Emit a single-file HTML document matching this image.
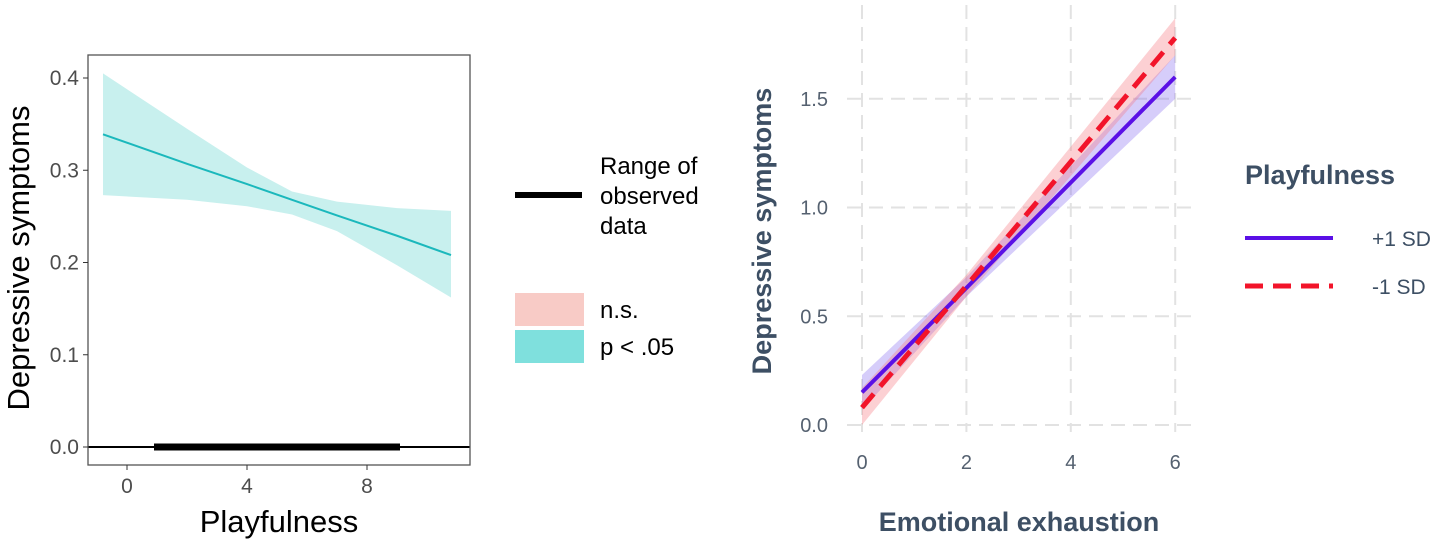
<!DOCTYPE html>
<html><head><meta charset="utf-8"><style>
body{margin:0;background:#fff;}
svg text{font-family:"Liberation Sans",sans-serif;}
</style></head><body>
<svg width="1441" height="544" viewBox="0 0 1441 544">
<g id="left"></g>
<g id="right"></g>
<g>
  <line x1="515" y1="195" x2="582" y2="195" stroke="#000" stroke-width="6"/>
  <text x="600" y="174" font-size="24" fill="#000">Range of</text>
  <text x="600" y="204" font-size="24" fill="#000">observed</text>
  <text x="600" y="234" font-size="24" fill="#000">data</text>
  <rect x="515" y="293" width="69" height="33" fill="#f8cbc6"/>
  <text x="600" y="318" font-size="24" fill="#000">n.s.</text>
  <rect x="515" y="330" width="69" height="33" fill="#7fe0dd"/>
  <text x="600" y="355" font-size="24" fill="#000">p &lt; .05</text>
</g>
<g>
  <text x="1245" y="184" font-size="27" font-weight="bold" fill="#3d4f64">Playfulness</text>
  <line x1="1245" y1="238" x2="1333" y2="238" stroke="#5a10e6" stroke-width="4"/>
  <text x="1372" y="246" font-size="21" fill="#3d4f64">+1 SD</text>
  <line x1="1245" y1="286" x2="1333" y2="286" stroke="#f2142a" stroke-width="5" stroke-dasharray="18,10"/>
  <text x="1372" y="294" font-size="21" fill="#3d4f64">-1 SD</text>
</g>
</svg>
<script>
// ---- left chart data ----
const jnX = [-0.8, 2, 4, 5.5, 7, 9, 10.8];
const jnUpper = [0.405, 0.345, 0.303, 0.277, 0.266, 0.259, 0.256];
const jnLower = [0.273, 0.268, 0.261, 0.252, 0.234, 0.197, 0.162];
const jnFit = [0.339, 0.307, 0.285, 0.268, 0.251, 0.229, 0.208];
const jnRange = [0.9, 9.1];
const leftYTicks = [0, 0.1, 0.2, 0.3, 0.4];
const leftXTicks = [0, 4, 8];
// ---- right chart data ----
const exX = [0, 2, 6];
const plusFit = [0.15, 0.63, 1.60];
const plusLo = [0.07, 0.59, 1.50];
const plusHi = [0.23, 0.68, 1.70];
const minusFit = [0.08, 0.64, 1.78];
const minusLo = [0.0, 0.59, 1.70];
const minusHi = [0.17, 0.69, 1.87];
const rightYTicks = [0, 0.5, 1.0, 1.5];
const rightXTicks = [0, 2, 4, 6];

const NS='http://www.w3.org/2000/svg';
function mk(p,tag,at){const e=document.createElementNS(NS,tag);for(const k in at)e.setAttribute(k,at[k]);p.appendChild(e);return e;}

// left
const L=document.getElementById('left');
const lx=v=>127+v*30, ly=v=>447-v*922.5;
let e;
e=mk(L,'path',{d:'M'+jnX.map((x,i)=>lx(x)+','+ly(jnUpper[i])).join('L')+'L'+jnX.slice().reverse().map((x,i)=>lx(x)+','+ly(jnLower[jnX.length-1-i])).join('L')+'Z',fill:'#c8f0ee'});


e=mk(L,'polyline',{points:jnX.map((x,i)=>lx(x)+','+ly(jnFit[i])).join(' '),fill:'none',stroke:'#1bb8bc','stroke-width':2});


e=mk(L,'line',{x1:88,x2:470,y1:ly(0),y2:ly(0),stroke:'#000','stroke-width':2});


e=mk(L,'line',{x1:lx(jnRange[0]),x2:lx(jnRange[1]),y1:ly(0),y2:ly(0),stroke:'#000','stroke-width':7});


e=mk(L,'rect',{x:88,y:55,width:382,height:410,fill:'none',stroke:'#555','stroke-width':1.3});


leftYTicks.forEach(v=>{
  mk(L,'line',{x1:83,x2:88,y1:ly(v),y2:ly(v),stroke:'#333'});
  e=mk(L,'text',{x:79,y:ly(v)+7,'font-size':21,fill:'#4d4d4d','text-anchor':'end'});e.textContent=v.toFixed(1);
  
  
});
leftXTicks.forEach(v=>{
  mk(L,'line',{x1:lx(v),x2:lx(v),y1:465,y2:470,stroke:'#333'});
  e=mk(L,'text',{x:lx(v),y:493,'font-size':21,fill:'#4d4d4d','text-anchor':'middle'});e.textContent=v;
  
  
});
e=mk(L,'text',{x:279,y:532,'font-size':31,fill:'#000','text-anchor':'middle'});e.textContent='Playfulness';


e=mk(L,'text',{x:0,y:0,'font-size':31,fill:'#000','text-anchor':'middle',transform:'translate(29,258) rotate(-90)'});e.textContent='Depressive symptoms';



// right
const R=document.getElementById('right');
const rx=v=>862+v*52.2, ry=v=>425-v*217.5;
rightXTicks.forEach(v=>{
  e=mk(R,'line',{x1:rx(v),x2:rx(v),y1:5,y2:432,stroke:'#e2e2e2','stroke-width':2,'stroke-dasharray':'14,8'});
  
  
  e=mk(R,'text',{x:rx(v),y:469,'font-size':20,fill:'#556170','text-anchor':'middle'});e.textContent=v;
  
  
});
rightYTicks.forEach(v=>{
  e=mk(R,'line',{x1:847,x2:1192,y1:ry(v),y2:ry(v),stroke:'#e2e2e2','stroke-width':2,'stroke-dasharray':'14,8'});
  
  
  e=mk(R,'text',{x:828,y:ry(v)+7,'font-size':20,fill:'#556170','text-anchor':'end'});e.textContent=v.toFixed(1);
  
  
});
function band(lo,hi,col,name){
  const pts=exX.map((x,i)=>rx(x)+','+ry(hi[i])).concat(exX.map((x,i)=>rx(x)+','+ry(lo[i])).reverse());
  const e=mk(R,'polygon',{points:pts.join(' '),fill:col});
  
  
}
band(plusLo,plusHi,'rgba(120,90,240,0.3)','plus-sd-band');
band(minusLo,minusHi,'rgba(245,120,130,0.35)','minus-sd-band');
e=mk(R,'polyline',{points:exX.map((x,i)=>rx(x)+','+ry(plusFit[i])).join(' '),fill:'none',stroke:'#5a10e6','stroke-width':4});


e=mk(R,'polyline',{points:exX.map((x,i)=>rx(x)+','+ry(minusFit[i])).join(' '),fill:'none',stroke:'#f2142a','stroke-width':5,'stroke-dasharray':'18,10'});


e=mk(R,'text',{x:1019,y:531,'font-size':27,'font-weight':'bold',fill:'#3d4f64','text-anchor':'middle'});e.textContent='Emotional exhaustion';


e=mk(R,'text',{x:0,y:0,'font-size':27,'font-weight':'bold',fill:'#3d4f64','text-anchor':'middle',transform:'translate(771,231) rotate(-90)'});e.textContent='Depressive symptoms';


</script>
</body></html>
